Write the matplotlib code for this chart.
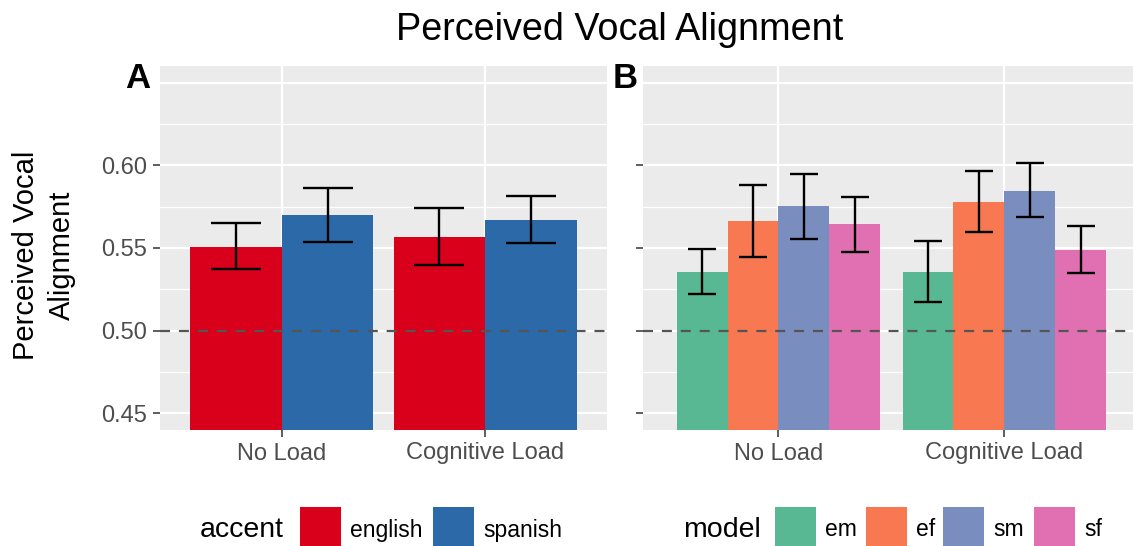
import matplotlib
matplotlib.use('Agg')
import matplotlib.pyplot as plt
from matplotlib.patches import Rectangle
import numpy as np

plt.rcParams['font.family'] = ['Liberation Sans', 'DejaVu Sans']

# --- data -------------------------------------------------------------
CONDITIONS = ['No Load', 'Cognitive Load']

ACCENTS = ['english', 'spanish']
ACCENT_COLORS = ['#D8001A', '#2C69A8']
ACCENT_MEAN = [[0.5508, 0.5565],   # english
               [0.5698, 0.5669]]   # spanish
ACCENT_LO = [[0.5371, 0.5397],
             [0.5534, 0.5530]]
ACCENT_HI = [[0.5649, 0.5744],
             [0.5865, 0.5813]]

MODELS = ['em', 'ef', 'sm', 'sf']
MODEL_COLORS = ['#57B893', '#F87851', '#7A8DBF', '#E070B2']
MODEL_MEAN = [[0.5357, 0.5357],
              [0.5663, 0.5778],
              [0.5752, 0.5846],
              [0.5645, 0.5488]]
MODEL_LO = [[0.5222, 0.5174],
            [0.5446, 0.5597],
            [0.5553, 0.5687],
            [0.5476, 0.5351]]
MODEL_HI = [[0.5492, 0.5542],
            [0.5881, 0.5965],
            [0.5949, 0.6016],
            [0.5810, 0.5633]]

Y_BREAKS = [0.45, 0.50, 0.55, 0.60, 0.65]
Y_MINOR = [0.475, 0.525, 0.575, 0.625]

W, H = 1133, 546
fig = plt.figure(figsize=(W / 100, H / 100), dpi=100)


def px(x0, y0, x1, y1):
    return [x0 / W, 1 - y1 / H, (x1 - x0) / W, (y1 - y0) / H]


def dodge_panel(ax, means, lows, highs, colors, capsize, show_labels):
    n = len(means)
    width = 0.9 / n
    xc = np.arange(1, len(CONDITIONS) + 1)
    for i in range(n):
        x = xc - 0.45 + width * (i + 0.5)
        m = np.array(means[i])
        ax.bar(x, m - 0.44, bottom=0.44, width=width, color=colors[i],
               edgecolor='none', zorder=2)
        err = [m - np.array(lows[i]), np.array(highs[i]) - m]
        ax.errorbar(x, m, yerr=err, fmt='none', ecolor='black',
                    elinewidth=1.7, capsize=capsize, capthick=1.7, zorder=4)
    ax.axhline(0.5, color='#555555', lw=1.6, ls=(0, (4.5, 4)), zorder=3)

    ax.set_facecolor('#EBEBEB')
    ax.set_xlim(0.4, 2.6 if show_labels else 2.57)
    ax.set_ylim(0.44, 0.66)
    ax.set_xticks(xc)
    ax.set_xticklabels(CONDITIONS)
    ax.set_yticks(Y_BREAKS)
    ax.set_yticks(Y_MINOR, minor=True)
    if show_labels:
        ax.set_yticklabels(['0.45', '0.50', '0.55', '0.60', ''])
    else:
        ax.set_yticklabels([])
    ax.yaxis.get_major_ticks()[-1].tick1line.set_visible(False)
    ax.grid(True, which='major', color='white', lw=1.6, zorder=0)
    ax.grid(True, which='minor', axis='y', color='white', lw=0.9, zorder=0)
    ax.set_axisbelow(True)
    ax.tick_params(which='major', length=5, width=1.1, color='#333333',
                   labelcolor='#4D4D4D', labelsize=17, pad=4)
    ax.tick_params(which='minor', length=0)
    for s in ax.spines.values():
        s.set_visible(False)


axA = fig.add_axes(px(160, 66, 607, 430))
dodge_panel(axA, ACCENT_MEAN, ACCENT_LO, ACCENT_HI, ACCENT_COLORS, 18, True)
axB = fig.add_axes(px(643, 66, 1133, 430))
dodge_panel(axB, MODEL_MEAN, MODEL_LO, MODEL_HI, MODEL_COLORS, 10, False)

fig.text(620 / W, 1 - 30 / H, 'Perceived Vocal Alignment', fontsize=27.2,
         ha='center', va='center')
fig.text(44 / W, 1 - 255 / H, 'Perceived Vocal\nAlignment', fontsize=21,
         rotation=90, ha='center', va='center', multialignment='center',
         linespacing=1.4)
fig.text(138 / W, 1 - 79 / H, 'A', fontsize=25, fontweight='bold',
         ha='center', va='center')
fig.text(625 / W, 1 - 79 / H, 'B', fontsize=25, fontweight='bold',
         ha='center', va='center')

# --- legends (title to the left of keys, ggplot style) ------------------
def legend_row(title, title_x, labels, colors, key_xs):
    fig.text(title_x / W, 1 - 530 / H, title, fontsize=20.5,
             ha='left', va='center')
    for lab, col, kx in zip(labels, colors, key_xs):
        fig.add_artist(Rectangle((kx / W, 0), 41 / W, (H - 507) / H,
                                 transform=fig.transFigure, color=col,
                                 lw=0))
        fig.text((kx + 50) / W, 1 - 530 / H, lab, fontsize=16.5,
                 ha='left', va='center')


legend_row('accent', 200, ACCENTS, ACCENT_COLORS, [300, 433])
legend_row('model', 683, MODELS, MODEL_COLORS, [775, 866, 943, 1034])

fig.savefig('out.png', dpi=100)
